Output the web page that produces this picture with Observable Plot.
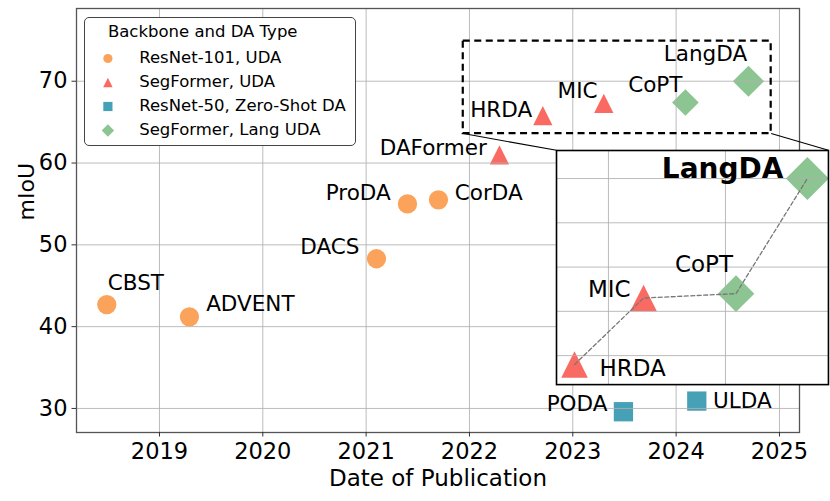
<!DOCTYPE html>
<html><head><meta charset="utf-8">
<script src="https://cdn.jsdelivr.net/npm/d3@7"></script>
<script src="https://cdn.jsdelivr.net/npm/@observablehq/plot@0.6"></script>
<style>
body{margin:0;background:#fff;}
#wrap{position:relative;width:830px;height:501px;font-family:"DejaVu Sans",sans-serif;overflow:hidden;}
#wrap svg{overflow:visible;}
.layer{position:absolute;}
</style></head><body><div id="wrap"></div>
<script>
// ---- data ----
const methods = ["CBST","ADVENT","DACS","ProDA","CorDA","DAFormer","HRDA","MIC","CoPT","LangDA","PODA","ULDA"];
const years   = [2018.49, 2019.29, 2021.10, 2021.40, 2021.70, 2022.29, 2022.71, 2023.30, 2024.09, 2024.70, 2023.49, 2024.20];
const mIoU    = [42.7, 41.2, 48.3, 55.0, 55.5, 61.0, 65.8, 67.3, 67.4, 70.0, 29.6, 30.9];
const types   = ["ResNet-101, UDA","ResNet-101, UDA","ResNet-101, UDA","ResNet-101, UDA","ResNet-101, UDA",
                 "SegFormer, UDA","SegFormer, UDA","SegFormer, UDA",
                 "SegFormer, Lang UDA","SegFormer, Lang UDA",
                 "ResNet-50, Zero-Shot DA","ResNet-50, Zero-Shot DA"];
const categories = ["ResNet-101, UDA","SegFormer, UDA","ResNet-50, Zero-Shot DA","SegFormer, Lang UDA"];
const legendTitle = "Backbone and DA Type";
const insetMethods = ["HRDA","MIC","CoPT","LangDA"];
const highlight = "LangDA";
const xTicks = [2019,2020,2021,2022,2023,2024,2025];
const yTicks = [30,40,50,60,70];
const insetXTicks = [2023,2024];
const insetYTicks = [66,67,68,69,70];
const zoomX = [2021.94, 2024.92];   // dashed region
const zoomY = [63.6, 74.9];
const insetBoxX = [2022.842, 2025.474]; // inset placement in main data coords
const insetBoxY = [61.56, 32.94];
const insetDomainX = [2022.556, 2024.88];
const insetDomainY = [65.345, 70.633];
const xLabel = "Date of Publication";
const yLabel = "mIoU";

// ---- styles ----
const colors = ["#FBA35B","#F96A62","#47A1B6","#8DC592"];
function sym(fn){return {draw(ctx,size){const r=Math.sqrt(size/Math.PI); fn(ctx,r);}};}
const symbols = [
  sym((c,r)=>{c.moveTo(r,0);c.arc(0,0,r,0,2*Math.PI);}),
  sym((c,r)=>{c.moveTo(0,-r);c.lineTo(r,r);c.lineTo(-r,r);c.closePath();}),
  sym((c,r)=>{c.moveTo(-r,-r);c.lineTo(r,-r);c.lineTo(r,r);c.lineTo(-r,r);c.closePath();}),
  sym((c,r)=>{c.moveTo(0,-r);c.lineTo(r,0);c.lineTo(0,r);c.lineTo(-r,0);c.closePath();})
];
const mainR = [9.65, 9.65, 9.65, 13.35], mainHighlightR = 15.6;
const insetR = [9.65, 13.3, 9.65, 18.3], insetHighlightR = 21.5;
const legendR = [4.6, 4.7, 4.6, 6.2];
const mainLabel = {
  CBST:["start",1,-21], ADVENT:["start",16.7,-12.3], DACS:["end",-17,-11.3], ProDA:["end",-16.7,-10.7],
  CorDA:["start",16.3,-6.7], DAFormer:["end",-12.6,-7], HRDA:["end",-10.7,-5], MIC:["end",-6.3,-12],
  CoPT:["end",-3,-17.8], LangDA:["end",-1.3,-26.7], PODA:["end",-16,-7.2], ULDA:["start",16.3,0]
};
const insetLabel = {HRDA:["start",25,4.5], MIC:["end",-13,-8.2], CoPT:["end",-3,-29.2], LangDA:["end",-24,-9.3]};
const gridStyle = {stroke:"#b0b0b0", strokeOpacity:0.85, strokeWidth:1};

const points = methods.map((m,i)=>({method:m, year:years[i], miou:mIoU[i], type:types[i]}));
const insetPoints = insetMethods.map(m => points.find(p => p.method === m));

function dotsFor(data, rArr, hiR){
  return categories.map((cat,i)=>Plot.dot(data.filter(d=>d.type===cat), {
    x:"year", y:"miou", symbol: symbols[i], fill: colors[i], stroke:"none",
    r: d => d.method===highlight ? hiR : rArr[i]
  }));
}

const wrap = document.getElementById("wrap");

// ---- main chart ----
const main = Plot.plot({
  width:830, height:501, marginLeft:76, marginRight:31, marginTop:8, marginBottom:69,
  style:{fontFamily:"DejaVu Sans, sans-serif", background:"transparent", color:"#000", overflow:"visible"},
  x:{domain:[2018.197, 2025.194]},
  y:{domain:[27.06, 78.89]},
  r:{type:"identity"},
  marks:[
    ...dotsFor(points, mainR, mainHighlightR),
    Plot.gridX(xTicks, gridStyle),
    Plot.gridY(yTicks, gridStyle),
    Plot.frame({stroke:"#555", strokeWidth:1.3}),
    Plot.axisX(xTicks, {tickSize:4.5, tickPadding:6.5, fontSize:22.5, label:null, tickFormat:d=>String(d), stroke:"#333"}),
    Plot.axisY(yTicks, {tickSize:4.5, tickPadding:4.5, fontSize:22.5, label:null, stroke:"#333"}),
    ...points.map(p=>{const [a,dx,dy]=mainLabel[p.method]; return Plot.text([p],{x:"year",y:"miou",text:"method",textAnchor:a,dx,dy,lineAnchor:"middle",fontSize:21.5,fill:"#000"});}),
    Plot.rect([0],{x1:()=>zoomX[0], x2:()=>zoomX[1], y1:()=>zoomY[0], y2:()=>zoomY[1], fill:"none", stroke:"#000", strokeWidth:2.2, strokeDasharray:"7,4.5"}),
    Plot.link([0,1],{x1:i=>zoomX[i], y1:()=>zoomY[0], x2:i=>insetBoxX[i], y2:()=>insetBoxY[0], stroke:"#000", strokeWidth:1.1}),
    Plot.text([xLabel],{frameAnchor:"bottom", dy:46, lineAnchor:"middle", fontSize:23, fill:"#000"}),
    Plot.text([yLabel],{frameAnchor:"left", dx:-50, rotate:-90, lineAnchor:"middle", fontSize:22, fill:"#000"})
  ]
});
main.classList.add("layer");
main.style.left="0px"; main.style.top="0px";
wrap.appendChild(main);

// ---- inset ----
const sx = main.scale("x"), sy = main.scale("y");
const iL = sx.apply(insetBoxX[0]), iR = sx.apply(insetBoxX[1]);
const iT = sy.apply(insetBoxY[0]), iB = sy.apply(insetBoxY[1]);
const inset = Plot.plot({
  width: iR-iL, height: iB-iT, margin:0,
  style:{fontFamily:"DejaVu Sans, sans-serif", background:"#fff", color:"#000", overflow:"visible"},
  x:{domain:insetDomainX, axis:null},
  y:{domain:insetDomainY, axis:null},
  r:{type:"identity"},
  marks:[
    ...dotsFor(insetPoints, insetR, insetHighlightR),
    Plot.gridX(insetXTicks, gridStyle),
    Plot.gridY(insetYTicks, gridStyle),
    Plot.line(insetPoints,{x:"year", y:"miou", stroke:"#777", strokeWidth:1.3, strokeDasharray:"4,2.5"}),
    ...insetPoints.map(p=>{const [a,dx,dy]=insetLabel[p.method]; const hi=p.method===highlight;
      return Plot.text([p],{x:"year",y:"miou",text:"method",textAnchor:a,dx,dy,lineAnchor:"middle",fontSize:hi?28:23,fontWeight:hi?"bold":"normal",fill:"#000"});}),
    Plot.frame({stroke:"#000", strokeWidth:1.6})
  ]
});
inset.classList.add("layer");
inset.style.left=iL+"px"; inset.style.top=iT+"px";
wrap.appendChild(inset);

// ---- legend ----
const legBox = document.createElement("div");
legBox.className="layer";
Object.assign(legBox.style,{left:"84px", top:"17px", width:"272px", height:"129px", boxSizing:"border-box",
  border:"1.3px solid #444", borderRadius:"5px", background:"#fff"});
const legend = Plot.plot({
  width:270, height:127, margin:0,
  style:{fontFamily:"DejaVu Sans, sans-serif", background:"transparent", color:"#000", overflow:"visible"},
  x:{domain:[0,1], range:[22.4,53.7], axis:null},
  y:{type:"point", domain:categories, range:[38.4,112.7], padding:0, axis:null},
  r:{type:"identity"},
  marks:[
    ...categories.map((c,i)=>Plot.dot([c],{x:()=>0, y:d=>d, symbol:symbols[i], fill:colors[i], r:legendR[i]})),
    Plot.text(categories,{x:()=>1, y:d=>d, text:d=>d, textAnchor:"start", lineAnchor:"middle", dy:-1, fontSize:16.5, fill:"#000"}),
    Plot.text([legendTitle],{x:()=>0, frameAnchor:"top", dy:13, textAnchor:"start", lineAnchor:"middle", fontSize:16.5, fill:"#000"})
  ]
});
legBox.appendChild(legend);
wrap.appendChild(legBox);
</script></body></html>
